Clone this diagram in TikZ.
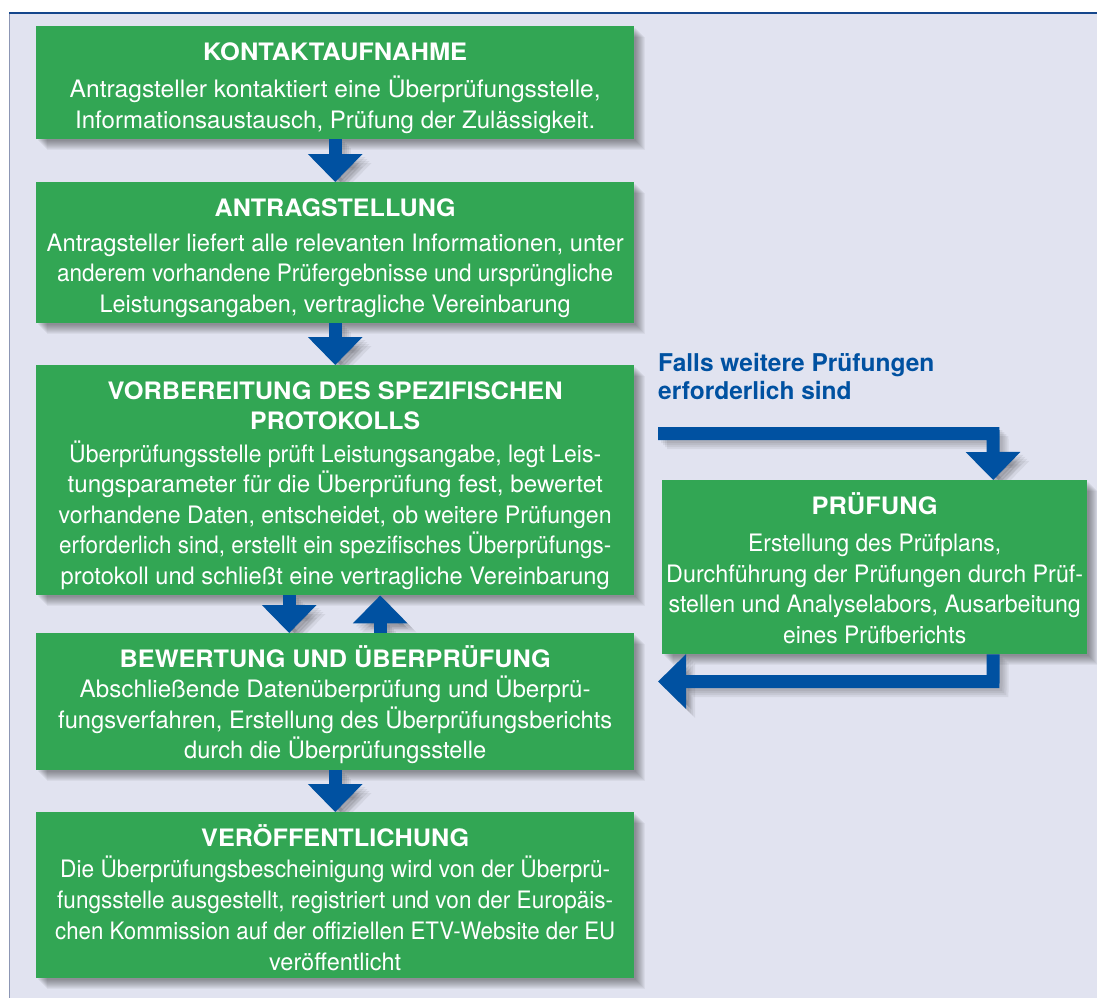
\documentclass[tikz,border=0pt]{standalone}
\usepackage{fontspec}
\usepackage{graphicx}
\setmainfont{TeX Gyre Heros}
\usetikzlibrary{arrows.meta}
\definecolor{boxgreen}{RGB}{50,166,84}
\definecolor{arrblue}{RGB}{0,81,161}
\definecolor{lav}{RGB}{225,227,240}
\definecolor{topblue}{RGB}{20,70,140}
\definecolor{sidegray}{RGB}{140,150,180}
\pgfdeclarelayer{back}
\pgfdeclarelayer{shad}
\pgfsetlayers{back,shad,main}
\newcommand{\TopS}{\rule{0pt}{34pt}}
\newcommand{\BotS}{\rule[-11pt]{0pt}{11pt}}
\newcommand{\fw}[2]{\resizebox{#1pt}{\height}{#2}}
\newcommand{\boxshadow}[1]{%
  \foreach \k in {2,3,...,11}{%
    \fill[black, opacity=0.045] ([xshift=\k pt,yshift=-\k pt]#1.north west) rectangle ([xshift=\k pt,yshift=-\k pt]#1.south east);
  }}
\tikzset{
  stepbox/.style={fill=boxgreen, text=white, inner sep=0pt, align=center,
    minimum width=598pt, anchor=north west,
    font=\fontsize{24}{30.5}\selectfont},
  bigarrow/.style={draw=arrblue, line width=13pt, line join=miter,
    -{Triangle[width=53pt,length=28pt]}},
  arrshadow/.style={bigarrow, draw=black, opacity=0.06},
  lbl/.style={text=arrblue, inner sep=0pt, align=left, anchor=north west,
    font=\fontsize{24.5}{28.5}\selectfont\bfseries}
}
\newcommand{\arrowshadow}[1]{%
  \foreach \k in {3,5,7,9}{%
    \draw[arrshadow, transform canvas={xshift=\k pt,yshift=-\k pt}] #1;
  }}
\begin{document}
\begin{tikzpicture}[x=1pt,y=-1pt]
\useasboundingbox (0,0) rectangle (1097,998);
\begin{pgfonlayer}{back}
  \fill[white] (0,0) rectangle (1097,998);
  \fill[lav] (9,13) rectangle (1097,998);
  \draw[sidegray, line width=0.6pt] (9,13) -- (9,998);
  \draw[topblue, line width=1.2pt] (9,13) -- (1097,13);
\end{pgfonlayer}

\node[stepbox] (b1) at (36,26) {\TopS\fw{264}{\bfseries KONTAKTAUFNAHME}\\[7pt]
\fw{531}{Antragsteller kontaktiert eine Überprüfungsstelle,}\\
\fw{520}{Informationsaustausch, Prüfung der Zulässigkeit.}\BotS};

\node[stepbox] (b2) at (36,182) {\TopS\fw{241}{\bfseries ANTRAGSTELLUNG}\\[4.5pt]
\fw{577}{Antragsteller liefert alle relevanten Informationen, unter}\\
\fw{556}{anderem vorhandene Prüfergebnisse und ursprüngliche}\\
\fw{471}{Leistungsangaben, vertragliche Vereinbarung}\BotS};

\node[stepbox] (b3) at (36,365) {\TopS\fw{455}{\bfseries VORBEREITUNG DES SPEZIFISCHEN}\\
\fw{170}{\bfseries PROTOKOLLS}\\[2pt]
\fw{532}{Überprüfungsstelle prüft Leistungsangabe, legt Leis-}\\
\fw{535}{tungsparameter für die Überprüfung fest, bewertet}\\
\fw{553}{vorhandene Daten, entscheidet, ob weitere Prüfungen}\\
\fw{552}{erforderlich sind, erstellt ein spezifisches Überprüfungs-}\\
\fw{549}{protokoll und schließt eine vertragliche Vereinbarung}\BotS};

\node[stepbox] (b4) at (36,633) {\TopS\fw{431}{\bfseries BEWERTUNG UND ÜBERPRÜFUNG}\\
\fw{511}{Abschließende Datenüberprüfung und Überprü-}\\
\fw{554}{fungsverfahren, Erstellung des Überprüfungsberichts}\\
\fw{302}{durch die Überprüfungsstelle}\BotS};

\node[stepbox, font=\fontsize{24}{31}\selectfont] (b5) at (36,812) {\TopS\fw{268}{\bfseries VERÖFFENTLICHUNG}\\
\fw{550}{Die Überprüfungsbescheinigung wird von der Überprü-}\\
\fw{556}{fungsstelle ausgestellt, registriert und von der Europäis-}\\
\fw{560}{chen Kommission auf der offiziellen ETV-Website der EU}\\
\fw{132}{veröffentlicht}\rule[-8pt]{0pt}{8pt}};

\node[stepbox, minimum width=425pt] (p) at (662,480) {\TopS\fw{126}{\bfseries PRÜFUNG}\\[7pt]
\fw{253}{Erstellung des Prüfplans,}\\
\fw{417}{Durchführung der Prüfungen durch Prüf-}\\
\fw{412}{stellen und Analyselabors, Ausarbeitung}\\
\fw{183}{eines Prüfberichts}\BotS};

\node[lbl] (lab) at (658,353) {Falls weitere Prüfungen\\erforderlich sind};

\coordinate (fin) at (658,433.5);
\coordinate (fout) at (658,681.5);
\coordinate (cin) at (993,433.5);
\coordinate (cout) at (993,681.5);

\begin{pgfonlayer}{shad}
  \boxshadow{b1}\boxshadow{b2}\boxshadow{b3}\boxshadow{b4}\boxshadow{b5}\boxshadow{p}
  \arrowshadow{(b1.south) -- (b2.north)}
  \arrowshadow{(b2.south) -- (b3.north)}
  \arrowshadow{([xshift=-46pt]b3.south) -- ([xshift=-46pt]b4.north)}
  \arrowshadow{([xshift=45pt]b4.north) -- ([xshift=45pt]b3.south)}
  \arrowshadow{(b4.south) -- (b5.north)}
  \arrowshadow{(fin) -- (cin) -- ([xshift=118.5pt]p.north)}
  \arrowshadow{([xshift=118.5pt]p.south) -- (cout) -- (fout)}
\end{pgfonlayer}

\draw[bigarrow] (b1.south) -- (b2.north);
\draw[bigarrow] (b2.south) -- (b3.north);
\draw[bigarrow] ([xshift=-46pt]b3.south) -- ([xshift=-46pt]b4.north);
\draw[bigarrow] ([xshift=45pt]b4.north) -- ([xshift=45pt]b3.south);
\draw[bigarrow] (b4.south) -- (b5.north);
\draw[bigarrow] (fin) -- (cin) -- ([xshift=118.5pt]p.north);
\draw[bigarrow] ([xshift=118.5pt]p.south) -- (cout) -- (fout);
\end{tikzpicture}
\end{document}
